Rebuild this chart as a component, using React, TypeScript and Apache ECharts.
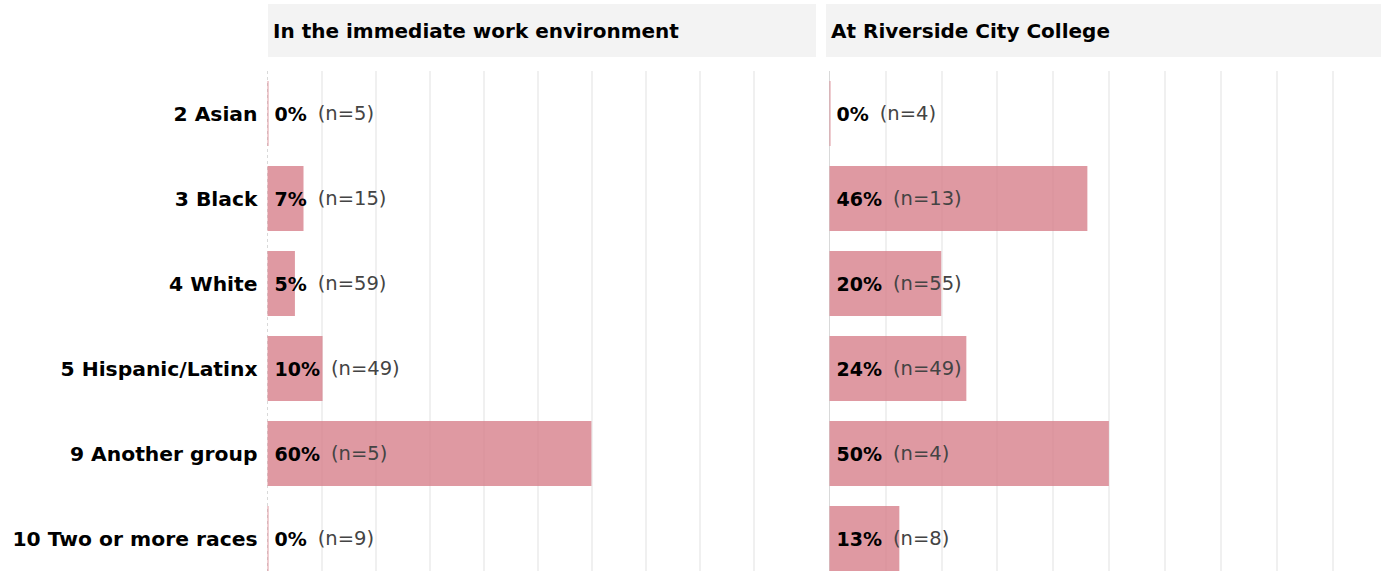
import React, { useEffect, useRef } from "react";
import * as echarts from "echarts";

const categories = [
  "2 Asian",
  "3 Black",
  "4 White",
  "5 Hispanic/Latinx",
  "9 Another group",
  "10 Two or more races",
];
const panelTitles = ["In the immediate work environment", "At Riverside City College"];
const leftValues = [0, 6.67, 5.08, 10.2, 60, 0];
const leftN = [5, 15, 59, 49, 5, 9];
const rightValues = [0, 46.15, 20, 24.49, 50, 12.5];
const rightN = [4, 13, 55, 49, 4, 8];
const gridTicks = [10, 20, 30, 40, 50, 60, 70, 80, 90];

const FONT = "DejaVu Sans";
const BAR = "rgba(215,127,139,0.8)";

export default function App() {
  const ref = useRef<HTMLDivElement>(null);
  useEffect(() => {
    if (!ref.current) return;
    const chart = echarts.init(ref.current, undefined, { renderer: "svg" });

    const panels = [
      { left: 267.5, width: 548.5, max: 101.6, values: leftValues, n: leftN, dashedZero: true },
      { left: 829.5, width: 551.5, max: 98.7, values: rightValues, n: rightN, dashedZero: false },
    ];

    const grids = panels.map((p) => ({ left: p.left, width: p.width, top: 71, height: 510 }));
    const xAxes = panels.map((p, i) => ({
      type: "value",
      gridIndex: i,
      min: 0,
      max: p.max,
      axisLine: { show: false },
      axisTick: { show: false },
      axisLabel: { show: false },
      splitLine: { show: false },
    }));
    const yAxes = panels.map((p, i) => ({
      type: "category",
      gridIndex: i,
      data: categories,
      inverse: true,
      axisLine: { show: false },
      axisTick: { show: false },
      axisLabel: {
        show: i === 0,
        margin: 10,
        fontFamily: FONT,
        fontSize: 20.3,
        fontWeight: "bold",
        color: "#000",
      },
    }));

    const series: any[] = [];
    panels.forEach((p, i) => {
      series.push({
        type: "scatter",
        xAxisIndex: i,
        yAxisIndex: i,
        data: [],
        silent: true,
        z: 0,
        markLine: {
          silent: true,
          symbol: "none",
          z: 0,
          label: { show: false },
          lineStyle: { color: "#ebebeb", width: 1.5, type: "solid" },
          data: [
            ...gridTicks.map((t) => ({ xAxis: t })),
            {
              xAxis: 0,
              lineStyle: {
                color: "#d9d9d9",
                width: 1,
                type: p.dashedZero ? [3, 3] : "solid",
              },
            },
          ],
        },
      });
      series.push({
        type: "bar",
        xAxisIndex: i,
        yAxisIndex: i,
        data: p.values,
        barWidth: 65,
        barMinHeight: 1,
        itemStyle: { color: BAR },
        z: 2,
      });
      series.push({
        type: "scatter",
        xAxisIndex: i,
        yAxisIndex: i,
        symbolSize: 0,
        itemStyle: { opacity: 1 },
        silent: true,
        data: p.values.map((_, k) => [0, k]),
        z: 3,
        label: {
          show: true,
          position: "right",
          distance: 7,
          formatter: (params: any) => {
            const k = params.dataIndex;
            return `{b|${Math.round(p.values[k])}%}{n|(n=${p.n[k]})}`;
          },
          rich: {
            b: { fontFamily: FONT, fontSize: 19, fontWeight: "bold", color: "#000" },
            n: { fontFamily: FONT, fontSize: 19.5, color: "#444", padding: [0, 0, 0, 11] },
          },
        },
      });
    });

    chart.setOption({
      animation: false,
      backgroundColor: "#ffffff",
      grid: grids,
      xAxis: xAxes,
      yAxis: yAxes,
      series,
      graphic: [
        { type: "rect", shape: { x: 268, y: 4, width: 548, height: 53 }, style: { fill: "#f3f3f3" }, z: -1 },
        { type: "rect", shape: { x: 826, y: 4, width: 555, height: 53 }, style: { fill: "#f3f3f3" }, z: -1 },
        {
          type: "text",
          x: 273,
          y: 31,
          style: {
            text: panelTitles[0],
            fontFamily: FONT,
            fontSize: 20,
            fontWeight: "bold",
            fill: "#000",
            verticalAlign: "middle",
          },
        },
        {
          type: "text",
          x: 831,
          y: 31,
          style: {
            text: panelTitles[1],
            fontFamily: FONT,
            fontSize: 20,
            fontWeight: "bold",
            fill: "#000",
            verticalAlign: "middle",
          },
        },
      ],
    });
    return () => chart.dispose();
  }, []);

  return (
    <div
      ref={ref}
      style={{ position: "fixed", left: 0, top: 0, width: 1387, height: 600 }}
    />
  );
}
